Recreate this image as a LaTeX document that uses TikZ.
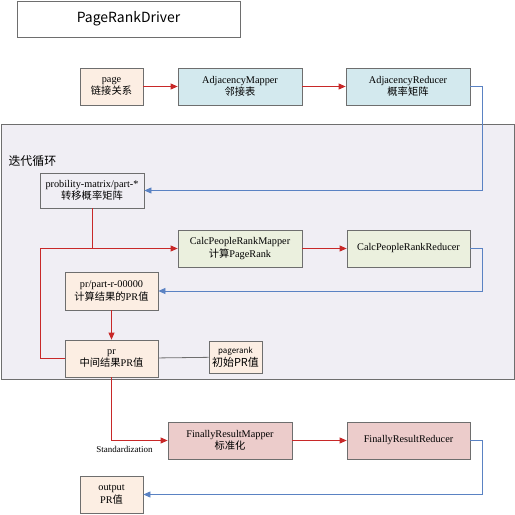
\documentclass[tikz,border=0pt]{standalone}
\usepackage{fontspec}
\setmainfont{Liberation Serif}
\newfontfamily\cjk{Noto Sans CJK SC}
\usetikzlibrary{arrows.meta}
\definecolor{prpeach}{RGB}{252,238,227}
\definecolor{prblue}{RGB}{211,233,238}
\definecolor{prgreen}{RGB}{235,240,222}
\definecolor{prpink}{RGB}{236,204,203}
\definecolor{prloop}{RGB}{240,238,244}
\definecolor{prframe}{RGB}{110,110,110}
\definecolor{prred}{RGB}{200,40,40}
\definecolor{prlink}{RGB}{90,130,195}
\newcommand{\zh}[1]{{\cjk #1}}

\begin{document}
\begin{tikzpicture}[x=1bp,y=-1bp,font=\fontsize{10.3}{12.5}\selectfont,
  box/.style={draw=prframe,line width=0.8pt,inner sep=0pt,align=center},
  flow/.style={prred,line width=0.8pt,-{Triangle[length=7bp,width=6bp]}},
  back/.style={prlink,line width=0.8pt,-{Triangle[length=7bp,width=6bp]}}]
  \useasboundingbox (0,0) rectangle (515,515);
  \node[box,fill=prloop,minimum width=513bp,minimum height=255bp] (loop) at (257.5,251.5) {};
  \node[anchor=west,font=\cjk\fontsize{12}{14}\selectfont] (looplbl) at (5,161) {迭代循环};
  \node[box,fill=white,minimum width=223bp,minimum height=36bp,
    font=\cjk\fontsize{14}{16}\selectfont] (driver) at (128.5,19) {PageRankDriver};

  \node[box,fill=prpeach,minimum width=63bp,minimum height=37bp] (page) at (111.5,86.5) {page\\\zh{链接关系}};
  \node[box,fill=prblue,minimum width=124bp,minimum height=37bp] (adjmap) at (240,86.5) {AdjacencyMapper\\\zh{邻接表}};
  \node[box,fill=prblue,minimum width=124bp,minimum height=37bp] (adjred) at (408,86.5) {AdjacencyReducer\\\zh{概率矩阵}};

  \node[box,minimum width=104bp,minimum height=35bp] (prob) at (92,190.5) {probility-matrix/part-*\\\zh{转移概率矩阵}};
  \node[box,fill=prgreen,minimum width=124bp,minimum height=37bp] (calcmap) at (240,248.5) {CalcPeopleRankMapper\\\zh{计算}PageRank};
  \node[box,fill=prgreen,minimum width=123bp,minimum height=37bp] (calcred) at (408.5,248.5) {CalcPeopleRankReducer};
  \node[box,fill=prpeach,minimum width=93bp,minimum height=38bp] (prpart) at (111.5,291) {pr/part-r-00000\\\zh{计算结果的}PR\zh{值}};
  \node[box,fill=prpeach,minimum width=93bp,minimum height=37bp] (pr) at (111.5,358.5) {pr\\\zh{中间结果}PR\zh{值}};
  \node[box,fill=prpeach,minimum width=53bp,minimum height=32bp,font=\cjk\fontsize{11}{13}\selectfont] (init) at (235.5,357)
    {{\cjk\fontsize{8}{9}\selectfont pagerank}\\初始PR值};

  \node[box,fill=prpink,minimum width=124bp,minimum height=37bp] (finmap) at (230,440.5) {FinallyResultMapper\\\zh{标准化}};
  \node[box,fill=prpink,minimum width=123bp,minimum height=37bp] (finred) at (408.5,440.5) {FinallyResultReducer};
  \node[box,fill=prpeach,minimum width=63bp,minimum height=37bp] (out) at (111.5,494.5) {output\\PR\zh{值}};
  \node[font=\fontsize{9}{10}\selectfont] (std) at (124.5,449.5) {Standardization};

  \coordinate (lp) at (40,248.5);
  \draw[flow] (page) -- (adjmap);
  \draw[flow] (adjmap) -- (adjred);
  \draw[back] (adjred.east) -- ++(12,0) |- (prob.east);
  \draw[prred,line width=0.8pt] (prob.south) -- (prob.south |- calcmap.west);
  \draw[flow] (pr.west) -| (lp) -- (calcmap.west);
  \draw[flow] (calcmap) -- (calcred);
  \draw[back] (calcred.east) -- ++(12,0) |- (prpart.east);
  \draw[flow] (prpart) -- (pr);
  \draw[prframe,line width=0.8pt] (pr) -- (init);
  \draw[flow] (pr.south) |- (finmap.west);
  \draw[flow] (finmap) -- (finred);
  \draw[back] (finred.east) -- ++(12,0) |- (out.east);
\end{tikzpicture}
\end{document}
